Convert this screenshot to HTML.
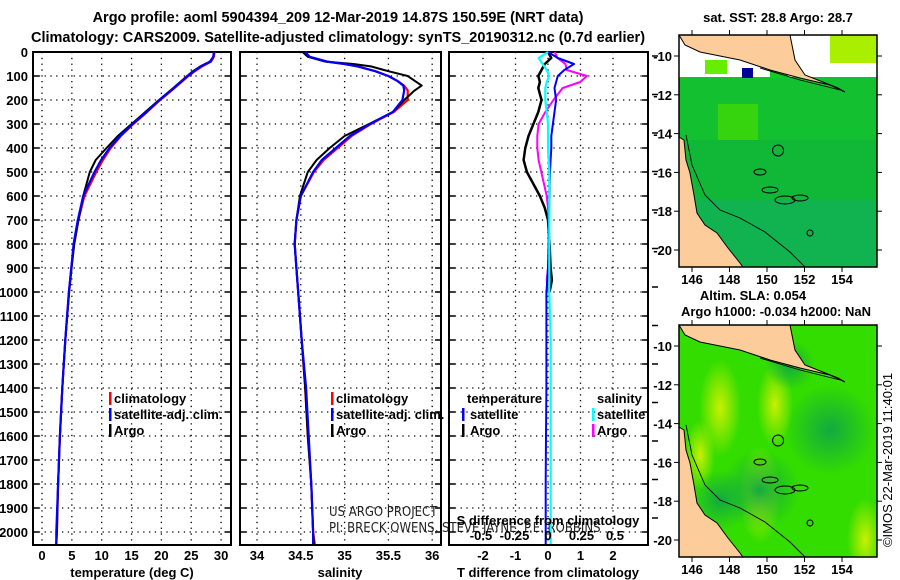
<!DOCTYPE html>
<html><head><meta charset="utf-8">
<style>
body{margin:0;background:#fff;}
svg{display:block;font-family:"Liberation Sans",Arial,sans-serif;}
.b{font-weight:bold;font-size:13px;}
.n{font-weight:normal;font-size:13px;}
.t{font-weight:bold;font-size:14.5px;}
</style></head>
<body>
<svg id="fig" width="900" height="580" viewBox="0 0 900 580">
<text class="t" x="338" y="22" text-anchor="middle">Argo profile: aoml 5904394_209 12-Mar-2019 14.87S 150.59E (NRT data)</text>
<text class="t" x="338" y="42" text-anchor="middle">Climatology: CARS2009. Satellite-adjusted climatology: synTS_20190312.nc (0.7d earlier)</text>
<g id="plots"></g>
<g id="maps"></g>
</svg>
<script>
// ---------- data ----------
const depthTicks=[0,100,200,300,400,500,600,700,800,900,1000,1100,1200,1300,1400,1500,1600,1700,1800,1900,2000];
const tempTicks=[0,5,10,15,20,25,30];
const salTicks=[34,34.5,35,35.5,36];
const salTickLabels=["34","34.5","35","35.5","36"];
const tdTicks=[-2,-1,0,1,2];
const sdTicks=[-0.5,-0.25,0,0.25,0.5];
const sdTickLabels=["-0.5","-0.25","0","0.25","0.5"];

const depthT=[0,20,40,60,80,100,150,200,250,300,350,400,450,500,600,700,800,900,1000,1200,1400,1600,1800,2000,2050];
const tClim=[28.9,28.8,28.3,26.8,25.6,24.5,22.2,19.8,17.6,15.3,13.2,11.5,10.2,9.1,7.1,6.1,5.4,4.9,4.5,3.9,3.4,3.0,2.7,2.5,2.4];
const tSat=[28.8,28.7,28.2,26.6,25.5,24.4,22.1,19.7,17.5,15.2,13.1,11.3,9.9,8.8,6.9,6.0,5.3,4.9,4.5,3.9,3.4,3.0,2.7,2.4,2.4];
const tArgo=[28.8,28.7,28.1,26.5,25.3,24.3,22.0,19.6,17.3,15.0,12.7,10.8,9.0,8.0,6.9,6.1,5.4,4.95,4.55,3.9,3.4,3.0,2.7,2.5,2.4];

const depthS=[0,20,40,50,60,80,100,120,140,160,200,250,300,350,400,450,500,600,700,800,900,1000,1200,1400,1600,1800,2000,2050];
const sClim=[34.55,34.6,34.8,35.0,35.15,35.35,35.5,35.6,35.68,35.72,35.72,35.56,35.30,35.08,34.92,34.76,34.65,34.5,34.45,34.43,34.45,34.47,34.51,34.55,34.58,34.62,34.64,34.66];
const sSat=[34.55,34.6,34.8,35.0,35.15,35.35,35.5,35.6,35.67,35.68,35.66,35.55,35.29,35.06,34.90,34.74,34.64,34.5,34.45,34.43,34.45,34.47,34.51,34.56,34.59,34.62,34.64,34.64];
const sArgo=[34.52,34.58,34.78,35.1,35.3,35.5,35.72,35.8,35.88,35.8,35.68,35.55,35.28,35.0,34.83,34.68,34.58,34.49,34.45,34.43,34.45,34.47,34.51,34.55,34.58,34.62,34.64,34.65];

const depthD=[0,25,50,75,100,125,150,200,250,300,350,400,450,500,550,600,650,700,800,900,950,1000,1200,1400,1600,1800,2000,2050];
const tdSat=[0,0.3,0.8,0.5,0.3,0.25,0.2,0.25,0.2,0.15,0.1,0.1,0.08,0.06,0.05,0.05,0.04,0.03,0.02,0.0,-0.02,-0.05,-0.05,-0.05,-0.06,-0.07,-0.07,-0.07];
const sdSat=[0,-0.07,-0.04,-0.01,0.01,-0.01,-0.02,-0.02,-0.01,0,0,0,0.005,0.01,0.01,0.01,0.01,0.01,0.01,0.01,0.01,0.01,0.02,0.02,0.02,0.02,0.02,0.02];
const depthDA=[0,25,50,75,100,125,150,200,250,300,350,400,450,500,550,600,650,700,800,900,950,1000];
const tdArgo=[0,0.1,-0.1,-0.2,-0.3,-0.25,-0.3,-0.2,-0.3,-0.45,-0.6,-0.7,-0.75,-0.65,-0.45,-0.25,-0.1,0,0.05,0.08,0.12,0.05];
const sdArgo=[0.05,0.07,0.13,0.14,0.29,0.24,0.11,0.04,-0.02,-0.07,-0.08,-0.08,-0.07,-0.05,-0.03,-0.01,0,0.005,0.01,0.0,-0.01,0.0];

// ---------- helpers ----------
const NS="http://www.w3.org/2000/svg";
const G=document.getElementById('plots');
function mk(tag,attrs,parent){const e=document.createElementNS(NS,tag);for(const k in attrs)e.setAttribute(k,attrs[k]);(parent||G).appendChild(e);return e;}
const yTop=52,yBot=545;
function yD(d){return yTop+d*0.24;}
const panels=[{l:33,r:231},{l:240,r:441},{l:449,r:648}];
function xT(v){return 42+v*5.97;}
function xS(v){return 257+(v-34)*87.6;}
function xTd(v){return 548+v*32.5;}
function xSd(v){return 548+v*134;}

function frame(p,name,xticks,xf){
  for(const t of xticks){
    const l=mk('line',{x1:xf(t),x2:xf(t),y1:yTop,y2:yBot,stroke:'#000','stroke-width':1.3,'stroke-dasharray':'1.3 4.5'});
    
    
  }
  for(const d of depthTicks){
    const l=mk('line',{x1:p.l,x2:p.r,y1:yD(d),y2:yD(d),stroke:'#000','stroke-width':1.3,'stroke-dasharray':'1.3 4.5'});
    
    
    const tk=mk('line',{x1:p.l,x2:p.l+6,y1:yD(d),y2:yD(d),stroke:'#000','stroke-width':1.5});
    
    
    const tk2=mk('line',{x1:p.r-6,x2:p.r,y1:yD(d),y2:yD(d),stroke:'#000','stroke-width':1.5});
    
    
  }
  const r=mk('rect',{x:p.l,y:yTop,width:p.r-p.l,height:yBot-yTop,fill:'none',stroke:'#000','stroke-width':2});
  
  
}
function line(xs,ds,xf,color,w,name){
  let pts=xs.map((v,i)=>xf(v).toFixed(1)+','+yD(ds[i]).toFixed(1)).join(' ');
  const e=mk('polyline',{points:pts,fill:'none',stroke:color,'stroke-width':w,'stroke-linejoin':'round'});
  
  
}
function txt(x,y,s,anchor,name,cls,extra){
  const e=mk('text',Object.assign({x:x,y:y,'text-anchor':anchor||'start',class:cls||'b'},extra||{}));
  e.textContent=s;
  
  
  return e;
}
function legBar(x,y,color,name){
  const e=mk('rect',{x:x,y:y-11,width:2.5,height:13,fill:color});
  
  
}

for(const d of depthTicks){txt(28,yD(d)+5,String(d),'end','depth-tick-label');}

// panel 1
frame(panels[0],'temperature-panel',tempTicks,xT);
line(tClim,depthT,xT,'#ff0000',2.2,'temperature-climatology-line');
line(tArgo,depthT,xT,'#000000',2,'temperature-argo-line');
line(tSat,depthT,xT,'#0000ff',2.2,'temperature-satellite-line');
for(const t of tempTicks)txt(xT(t),560,String(t),'middle','temperature-tick-label');
txt(132,577,'temperature (deg C)','middle','temperature-axis-title');
legBar(109,403,'#ff0000','legend-climatology-swatch');txt(114,403,'climatology','start','legend-climatology');
legBar(109,419,'#0000ff','legend-satellite-swatch');txt(114,419,'satellite-adj. clim.','start','legend-satellite-adj');
legBar(109,435,'#000','legend-argo-swatch');txt(114,435,'Argo','start','legend-argo');

// panel 2
frame(panels[1],'salinity-panel',salTicks,xS);
line(sClim,depthS,xS,'#ff0000',2.2,'salinity-climatology-line');
line(sArgo,depthS,xS,'#000000',2,'salinity-argo-line');
line(sSat,depthS,xS,'#0000ff',2.2,'salinity-satellite-line');
salTicks.forEach((t,i)=>txt(xS(t),560,salTickLabels[i],'middle','salinity-tick-label'));
txt(340,577,'salinity','middle','salinity-axis-title');
legBar(331,403,'#ff0000','legend-climatology-swatch');txt(336,403,'climatology','start','legend-climatology');
legBar(331,419,'#0000ff','legend-satellite-swatch');txt(336,419,'satellite-adj. clim.','start','legend-satellite-adj');
legBar(331,435,'#000','legend-argo-swatch');txt(336,435,'Argo','start','legend-argo');
txt(329,516,'US ARGO PROJECT','start','credit-project','n',{fill:'#222','font-family':'DejaVu Sans Condensed, Liberation Sans Narrow, sans-serif'});
txt(329,532,'PI: BRECK OWENS, STEVE JAYNE, P.E. ROBBINS','start','credit-pi','n',{fill:'#222','font-family':'DejaVu Sans Condensed, Liberation Sans Narrow, sans-serif'});

// panel 3
frame(panels[2],'difference-panel',tdTicks,xTd);
line(tdArgo,depthDA,xTd,'#000000',2.5,'tdiff-argo-line');
line(sdArgo,depthDA,xSd,'#ff00ff',2,'sdiff-argo-line');
line(tdSat,depthD,xTd,'#0000ff',2,'tdiff-satellite-line');
line(sdSat,depthD,xSd,'#00ffff',2.2,'sdiff-satellite-line');
tdTicks.forEach(t=>txt(xTd(t),560,String(t),'middle','tdiff-tick-label'));
txt(548,577,'T difference from climatology','middle','tdiff-axis-title');
txt(548,525,'S difference from climatology','middle','sdiff-axis-title');
sdTicks.forEach((t,i)=>txt(xSd(t),540,sdTickLabels[i],'middle','sdiff-tick-label'));
for(let k=0;k<13;k++){const y=56+k*38.5;if(y>545)break;const e=mk('line',{x1:652,x2:658,y1:y,y2:y,stroke:'#000','stroke-width':1.5});

}
txt(467,403,'temperature','start','legend-temperature-header');
txt(597,403,'salinity','start','legend-salinity-header');
legBar(462,419,'#0000ff','legend-tsat-swatch');txt(470,419,'satellite','start','legend-tsat');
legBar(462,435,'#000','legend-targo-swatch');txt(470,435,'Argo','start','legend-targo');
legBar(592,419,'#00ffff','legend-ssat-swatch');txt(597,419,'satellite','start','legend-ssat');
legBar(592,435,'#ff00ff','legend-sargo-swatch');txt(597,435,'Argo','start','legend-sargo');
</script>
<script>
(function(){
const NS="http://www.w3.org/2000/svg";
const M=document.getElementById('maps');
function mk(tag,a,p){const e=document.createElementNS(NS,tag);for(const k in a)e.setAttribute(k,a[k]);(p||M).appendChild(e);return e;}
function lx(lon){return 692+(lon-146)*18.75;}
function ly(lat,off){return off+56+(-10-lat)*19.4;}
const maps=[{off:0,name:'sst-map'},{off:290,name:'sla-map'}];
const defs=mk('defs',{});
defs.innerHTML='<radialGradient id="y1"><stop offset="0" stop-color="#c8f000"/><stop offset="1" stop-color="#c8f000" stop-opacity="0"/></radialGradient><radialGradient id="d1"><stop offset="0" stop-color="#11aa40"/><stop offset="1" stop-color="#11aa40" stop-opacity="0"/></radialGradient>';
maps.forEach((m,mi)=>{
  const o=m.off;
  const g=mk('g',{});
  
  
  const cp=mk('clipPath',{id:'cp'+mi},defs);
  mk('rect',{x:679,y:35+o,width:198,height:232},cp);
  const inner=mk('g',{'clip-path':'url(#cp'+mi+')'},g);
  if(mi===0){
    mk('rect',{x:679,y:35,width:198,height:232,fill:'#12c030'},inner);
    mk('rect',{x:679,y:140,width:198,height:127,fill:'#10b03c',opacity:0.6},inner);
    mk('rect',{x:679,y:200,width:198,height:67,fill:'#10b060',opacity:0.6},inner);
    mk('rect',{x:679,y:35,width:198,height:42,fill:'#ffffff'},inner);
    mk('rect',{x:705,y:60,width:22,height:14,fill:'#66ee00'},inner);
    mk('rect',{x:770,y:58,width:18,height:20,fill:'#11cc22'},inner);
    mk('rect',{x:742,y:68,width:11,height:10,fill:'#000099'},inner);
    mk('rect',{x:830,y:35,width:47,height:28,fill:'#aaee00'},inner);
    mk('rect',{x:718,y:104,width:40,height:36,fill:'#44dd00',opacity:0.7},inner);
  }else{
    mk('rect',{x:679,y:35+o,width:198,height:232,fill:'#33dd00'},inner);
    [[720,118,35],[775,115,30],[700,165,25],[865,250,30],[760,205,35]].forEach(c=>{
      mk('ellipse',{cx:c[0],cy:c[1]+o,rx:c[2]*0.6,ry:c[2]*1.4,fill:'url(#y1)'},inner);});
    [[830,140,45],[760,200,40],[720,210,30],[790,75,25]].forEach(c=>{
      mk('circle',{cx:c[0],cy:c[1]+o,r:c[2],fill:'url(#d1)'},inner);});
  }
  mk('polygon',{points:[[679,35],[790,35],[795,60],[805,75],[838,88],[845,92],[830,85],[800,78],[770,70],[740,60],[715,55],[700,52],[685,45]].map(p=>p[0]+','+(p[1]+o)).join(' '),fill:'#fccc9a',stroke:'#000','stroke-width':1},inner);
  mk('polygon',{points:[[679,137],[684,140],[686,160],[690,173],[694,195],[697,213],[705,225],[717,233],[728,248],[740,263],[745,270],[679,270]].map(p=>p[0]+','+(p[1]+o)).join(' '),fill:'#fccc9a',stroke:'#000','stroke-width':1},inner);
  mk('polyline',{points:[[686,135],[692,165],[705,195],[720,210],[740,218],[765,232],[790,252],[805,267]].map(p=>p[0]+','+(p[1]+o)).join(' '),fill:'none',stroke:'#000','stroke-width':0.9},inner);
  mk('polyline',{points:[[760,68],[800,80],[840,90]].map(p=>p[0]+','+(p[1]+o)).join(' '),fill:'none',stroke:'#000','stroke-width':0.9},inner);
  [[760,172,6,3],[770,190,8,3],[785,200,10,4],[800,198,8,3],[810,233,3,3]].forEach(r=>{
    mk('ellipse',{cx:r[0],cy:r[1]+o,rx:r[2],ry:r[3],fill:'none',stroke:'#000','stroke-width':1},inner);});
  const c=mk('circle',{cx:lx(150.59),cy:ly(-14.87,o),r:5.5,fill:'none',stroke:'#000','stroke-width':1},g);
  
  
  mk('rect',{x:679,y:35+o,width:198,height:232,fill:'none',stroke:'#000','stroke-width':1.5},g);
  [-10,-12,-14,-16,-18,-20].forEach(lat=>{
    const y=ly(lat,o);
    mk('line',{x1:674,x2:679,y1:y,y2:y,stroke:'#000'},g);
    mk('line',{x1:877,x2:882,y1:y,y2:y,stroke:'#000'},g);
    const t=mk('text',{x:672,y:y+5,'text-anchor':'end',class:'b'},g);t.textContent=String(lat);
    
    
  });
  [146,148,150,152,154].forEach(lon=>{
    const x=lx(lon);
    mk('line',{x1:x,x2:x,y1:30+o,y2:35+o,stroke:'#000'},g);
    mk('line',{x1:x,x2:x,y1:267+o,y2:272+o,stroke:'#000'},g);
    const t=mk('text',{x:x,y:284+o,'text-anchor':'middle',class:'b'},g);t.textContent=String(lon);
    
    
  });
});
function T(x,y,s,name,extra){const t=mk('text',Object.assign({x:x,y:y,'text-anchor':'middle',class:'b'},extra||{}));t.textContent=s;

}
T(778,22,'sat. SST: 28.8 Argo: 28.7','sst-map-title');
T(753,300,'Altim. SLA: 0.054','sla-map-title');
T(776,316,'Argo h1000: -0.034 h2000: NaN','sla-map-subtitle');
T(892,460,'©IMOS 22-Mar-2019 11:40:01','imos-credit',{transform:'rotate(-90 892 460)',class:'n'});
})();
</script>
</body></html>
